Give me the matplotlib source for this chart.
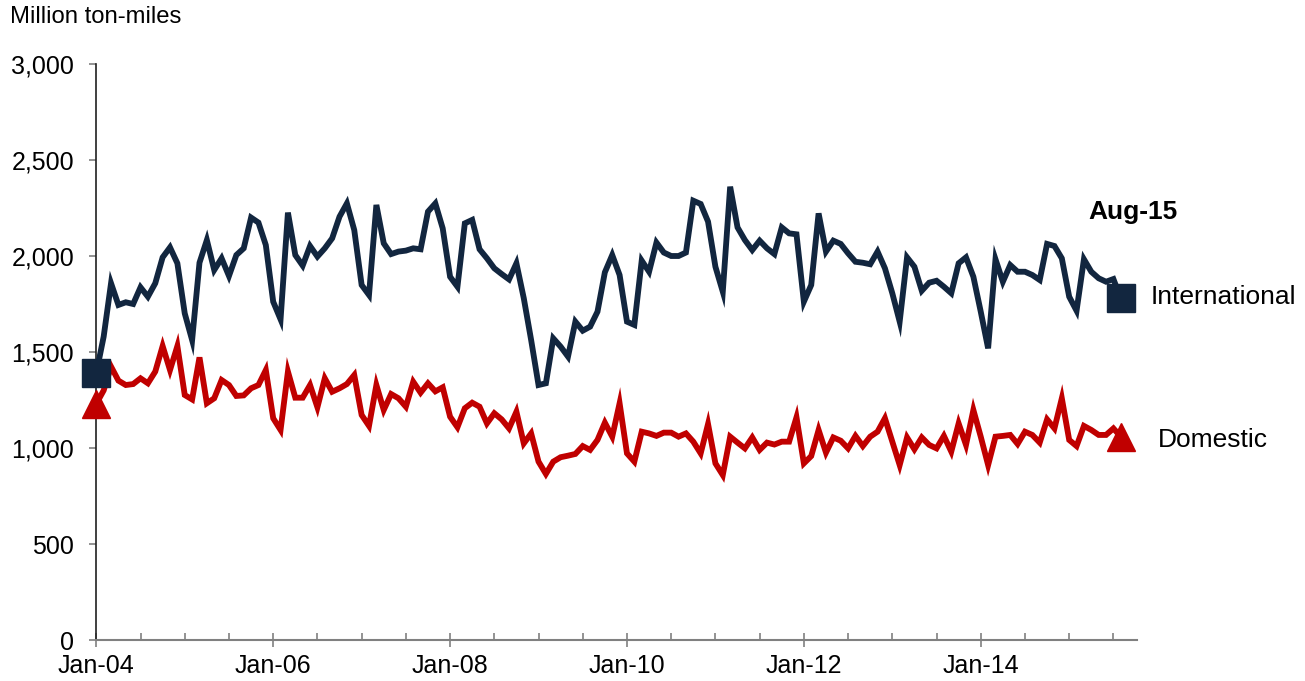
import numpy as np
import matplotlib
matplotlib.use('Agg')
import matplotlib.pyplot as plt
from matplotlib.ticker import MultipleLocator, FuncFormatter

plt.rcParams['font.family'] = ['Liberation Sans', 'DejaVu Sans']

# monthly series, Jan-04 .. Aug-15 (million ton-miles)
international = [1390, 1580, 1858, 1745, 1759, 1750, 1837, 1788, 1858, 1993,
                 2045, 1962, 1701, 1562, 1965, 2083, 1927, 1988, 1896, 2005,
                 2040, 2200, 2174, 2057, 1762, 1670, 2226, 2005, 1950, 2052,
                 1997, 2040, 2092, 2205, 2274, 2135, 1849, 1797, 2266, 2066,
                 2010, 2023, 2028, 2040, 2035, 2231, 2274, 2144, 1892, 1840,
                 2170, 2188, 2035, 1988, 1936, 1906, 1878, 1962, 1780, 1562,
                 1328, 1337, 1571, 1528, 1476, 1658, 1611, 1632, 1710, 1915,
                 2005, 1901, 1658, 1641, 1976, 1918, 2070, 2018, 2000, 2000,
                 2018, 2288, 2271, 2179, 1944, 1814, 2361, 2149, 2083, 2031,
                 2080, 2040, 2010, 2149, 2118, 2113, 1762, 1849, 2222, 2023,
                 2080, 2063, 2014, 1970, 1965, 1957, 2023, 1936, 1806, 1658,
                 1993, 1944, 1819, 1861, 1871, 1840, 1806, 1962, 1993, 1892,
                 1710, 1519, 1983, 1866, 1953, 1918, 1918, 1901, 1875, 2063,
                 2052, 1988, 1788, 1715, 1983, 1918, 1884, 1866, 1880, 1779]

domestic = [1230, 1300, 1424, 1351, 1328, 1333, 1363, 1337, 1398, 1531,
            1406, 1531, 1276, 1253, 1472, 1233, 1259, 1354, 1328, 1271,
            1274, 1311, 1328, 1406, 1155, 1094, 1398, 1262, 1262, 1328,
            1212, 1363, 1293, 1311, 1333, 1380, 1172, 1115, 1328, 1198,
            1281, 1259, 1215, 1345, 1288, 1337, 1295, 1316, 1163, 1108,
            1207, 1236, 1215, 1128, 1181, 1149, 1102, 1189, 1024, 1076,
            929, 865, 929, 952, 960, 969, 1010, 990, 1042, 1132,
            1059, 1233, 972, 929, 1085, 1076, 1063, 1080, 1080, 1059,
            1076, 1033, 972, 1125, 920, 859, 1059, 1028, 998, 1055,
            990, 1028, 1018, 1033, 1033, 1160, 920, 958, 1094, 976,
            1055, 1038, 998, 1063, 1010, 1059, 1085, 1155, 1033, 911,
            1055, 993, 1055, 1016, 998, 1063, 981, 1128, 1016, 1198,
            1059, 911, 1059, 1063, 1068, 1021, 1085, 1068, 1028, 1149,
            1102, 1259, 1042, 1010, 1115, 1094, 1068, 1068, 1102, 1059]

year_labels = ['Jan-04', 'Jan-06', 'Jan-08', 'Jan-10', 'Jan-12', 'Jan-14']

assert len(international) == len(domestic) == 140
months = np.arange(len(international))
last = len(months) - 1

navy = '#12263f'
red = '#c00000'

fig = plt.figure(figsize=(13.05, 6.81), dpi=100)
ax = fig.add_axes([96.3 / 1305, 1 - 640 / 681, (1137 - 96.3) / 1305, 576 / 681])

ax.plot(months, domestic, color=red, lw=4.2, marker='^', ms=20,
        markevery=[0, last], solid_joinstyle='miter', clip_on=False, zorder=3)
ax.plot(months, international, color=navy, lw=4.2, marker='s', ms=20,
        markevery=[0, last], solid_joinstyle='miter', clip_on=False, zorder=4)

ax.set_xlim(0, 141.2)
ax.set_ylim(0, 3000)

ax.yaxis.set_major_locator(MultipleLocator(500))
ax.yaxis.set_major_formatter(FuncFormatter(lambda v, p: f'{int(v):,}'))
ax.set_xticks(np.arange(0, 140, 24))
ax.set_xticklabels(year_labels)
ax.xaxis.set_minor_locator(MultipleLocator(6))

for s in ['top', 'right']:
    ax.spines[s].set_visible(False)
ax.spines['left'].set_color('#202020')
ax.spines['bottom'].set_color('#808080')
ax.spines['left'].set_linewidth(1.2)
ax.spines['bottom'].set_linewidth(1.5)

ax.tick_params(axis='y', length=5, width=1.2, color='#808080', pad=11, labelsize=18)
ax.tick_params(axis='x', which='major', direction='inout', length=10, width=1.2,
               color='#808080', pad=5, labelsize=18)
ax.tick_params(axis='x', which='minor', direction='in', length=5, width=1.2,
               color='#808080')

fig.text(10 / 1305, 1 - 17 / 681, 'Million ton-miles', fontsize=17.2, va='center', ha='left')
fig.text(1133 / 1305, 1 - 212 / 681, 'Aug-15', fontsize=19, fontweight='bold',
         va='center', ha='center')
fig.text(1151 / 1305, 1 - 297 / 681, 'International', fontsize=19, va='center', ha='left')
fig.text(1158 / 1305, 1 - 440 / 681, 'Domestic', fontsize=19, va='center', ha='left')

fig.savefig('out.png', dpi=100)
